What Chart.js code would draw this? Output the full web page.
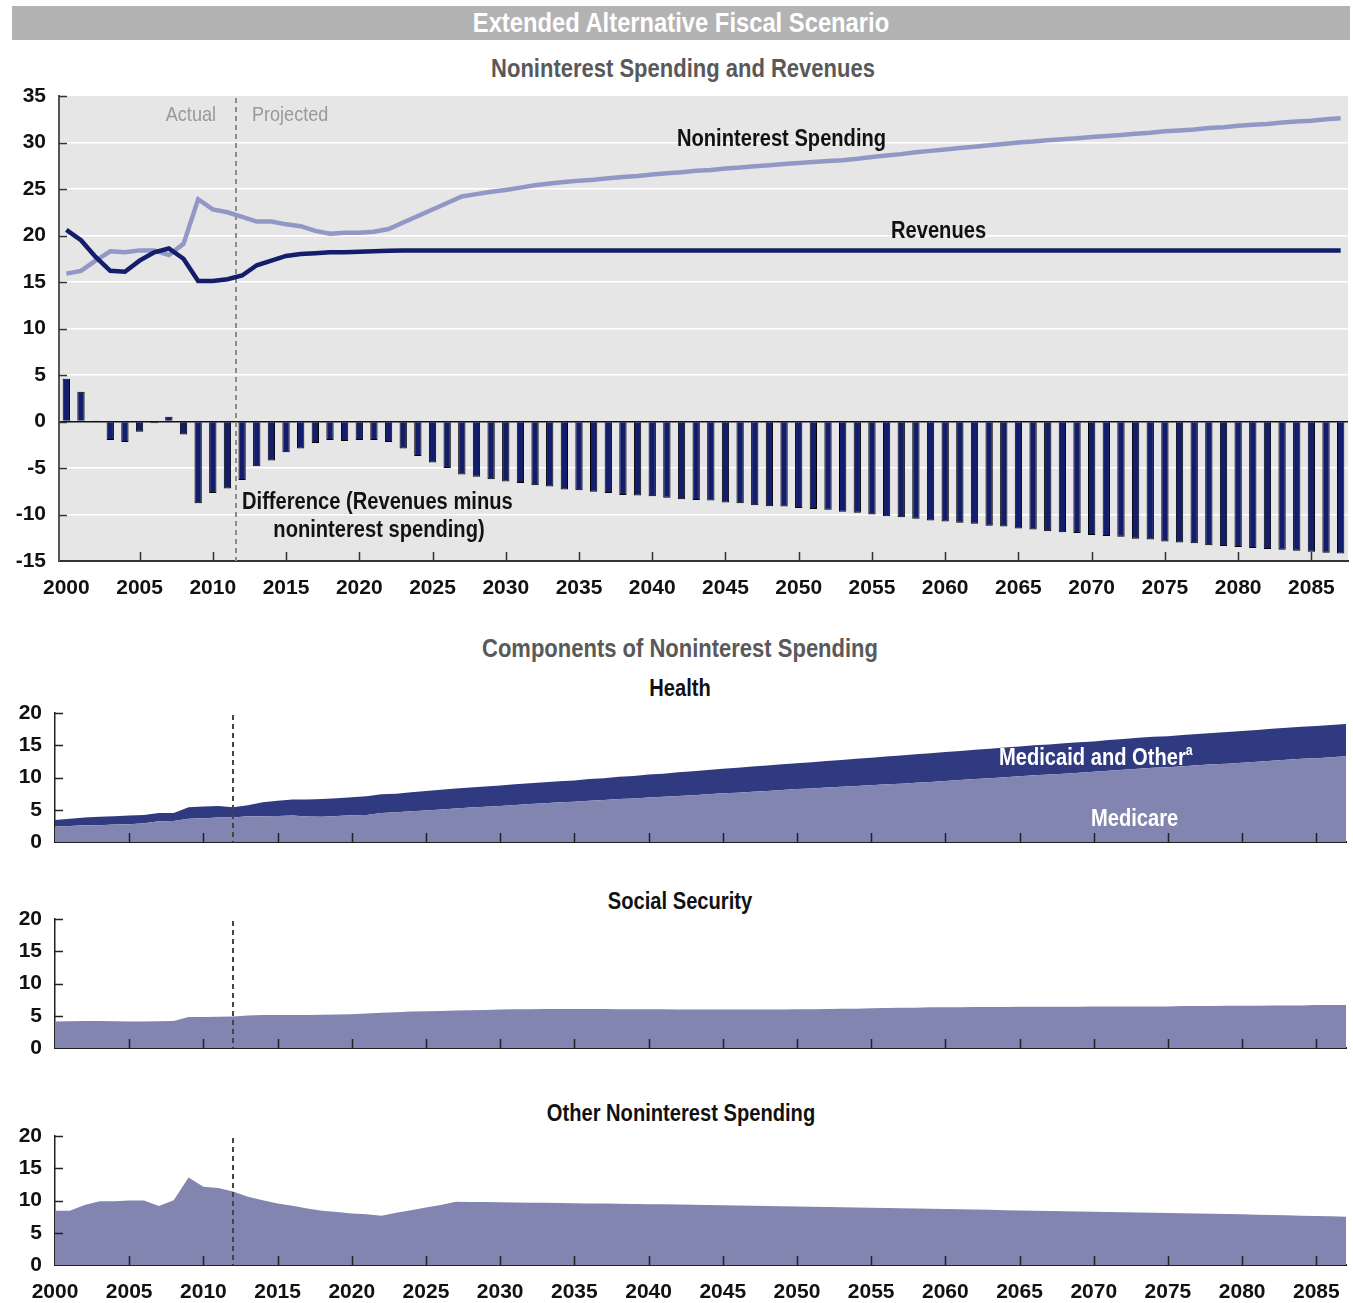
<!DOCTYPE html>
<html>
<head>
<meta charset="utf-8">
<script src="https://cdn.jsdelivr.net/npm/chart.js@4.4.1/dist/chart.umd.min.js"></script>
<style>
  body { margin: 0; background: #fff; width: 1353px; height: 1303px; overflow: hidden; position: relative;
         font-family: "Liberation Sans", Arial, sans-serif; }
  .box { position: absolute; left: 0; width: 1353px; }
  .wide { width: 1361px; }
  .txt { position: absolute; white-space: nowrap; font-weight: bold; height: 30px; line-height: 30px;
         font-size: 23px; color: #111; transform: scaleX(0.875); transform-origin: 0 50%; }
  .ctr { text-align: center; transform-origin: 50% 50%; }
  .ttl { font-size: 25px; color: #595959; transform: scaleX(0.88); }
  .note { font-size: 21px; font-weight: normal; color: #999; transform: scaleX(0.86); }
  .sup { font-size: 14px; position: relative; top: -10px; }
  #header { position: absolute; left: 12px; top: 6px; width: 1338px; height: 34px; background: #b3b3b3; }
  #header div { color: #fff; font-weight: bold; font-size: 27px; line-height: 34px; text-align: center;
                transform: scaleX(0.88); }
</style>
</head>
<body>
<div id="header"><div>Extended Alternative Fiscal Scenario</div></div>

<div class="txt ctr ttl" style="left:383px;width:600px;top:53px;">Noninterest Spending and Revenues</div>
<div class="box wide" style="top:70px;height:536px;"><canvas id="topChart"></canvas></div>
<div class="txt note" style="left:116px;width:100px;text-align:right;top:99px;transform-origin:100% 50%;">Actual</div>
<div class="txt note" style="left:252px;top:99px;">Projected</div>
<div class="txt" style="left:677px;top:123px;">Noninterest Spending</div>
<div class="txt" style="left:891px;top:215px;">Revenues</div>
<div class="txt" style="left:242px;top:486px;">Difference (Revenues minus</div>
<div class="txt ctr" style="left:229px;width:300px;top:514px;">noninterest spending)</div>

<div class="txt ctr ttl" style="left:380px;width:600px;top:633px;">Components of Noninterest Spending</div>
<div class="txt ctr" style="left:530px;width:300px;top:673px;">Health</div>
<div class="box" style="top:687px;height:181px;"><canvas id="healthChart"></canvas></div>
<div class="txt" style="left:999px;top:742px;color:#fff;">Medicaid and Other<span class="sup">a</span></div>
<div class="txt" style="left:1091px;top:803px;color:#fff;">Medicare</div>

<div class="txt ctr" style="left:530px;width:300px;top:886px;">Social Security</div>
<div class="box" style="top:893px;height:181px;"><canvas id="ssChart"></canvas></div>

<div class="txt ctr" style="left:481px;width:400px;top:1098px;">Other Noninterest Spending</div>
<div class="box wide" style="top:1110px;height:200px;"><canvas id="otherChart"></canvas></div>

<script>
// years 2000-2087
const years = [];
for (let y = 2000; y <= 2087; y++) years.push(y);

// percent of GDP
const spending = [
  15.9, 16.2, 17.3, 18.3, 18.2, 18.4, 18.4, 17.9, 19.1, 23.9,
  22.8, 22.5, 22.0, 21.5, 21.5, 21.2, 21.0, 20.5, 20.2, 20.3,
  20.3, 20.4, 20.7, 21.4, 22.1, 22.8, 23.5, 24.2, 24.45, 24.7,
  24.9, 25.15, 25.4, 25.6, 25.75, 25.9, 26.0, 26.15, 26.3, 26.4,
  26.55, 26.7, 26.8, 26.95, 27.05, 27.2, 27.3, 27.45, 27.55, 27.7,
  27.8, 27.9, 28.0, 28.1, 28.25, 28.45, 28.6, 28.75, 28.95, 29.1,
  29.25, 29.4, 29.55, 29.7, 29.85, 30.0, 30.1, 30.25, 30.35, 30.45,
  30.6, 30.7, 30.8, 30.95, 31.05, 31.2, 31.3, 31.4, 31.55, 31.65,
  31.8, 31.9, 32.0, 32.15, 32.25, 32.35, 32.5, 32.6
];
const revenues = [
  20.6, 19.5, 17.7, 16.2, 16.1, 17.3, 18.2, 18.6, 17.5, 15.1,
  15.1, 15.3, 15.7, 16.8, 17.3, 17.8, 18.0, 18.1, 18.2, 18.2,
  18.25, 18.3, 18.35, 18.4, 18.4, 18.4, 18.4, 18.4, 18.4, 18.4,
  18.4, 18.4, 18.4, 18.4, 18.4, 18.4, 18.4, 18.4, 18.4, 18.4,
  18.4, 18.4, 18.4, 18.4, 18.4, 18.4, 18.4, 18.4, 18.4, 18.4,
  18.4, 18.4, 18.4, 18.4, 18.4, 18.4, 18.4, 18.4, 18.4, 18.4,
  18.4, 18.4, 18.4, 18.4, 18.4, 18.4, 18.4, 18.4, 18.4, 18.4,
  18.4, 18.4, 18.4, 18.4, 18.4, 18.4, 18.4, 18.4, 18.4, 18.4,
  18.4, 18.4, 18.4, 18.4, 18.4, 18.4, 18.4, 18.4
];
const difference = [
  4.6, 3.2, 0.1, -2.0, -2.2, -1.1, -0.2, 0.5, -1.4, -8.8,
  -7.7, -7.2, -6.3, -4.8, -4.2, -3.3, -2.9, -2.3, -2.0, -2.1,
  -2.0, -2.0, -2.2, -2.9, -3.7, -4.4, -5.0, -5.7, -5.95, -6.2,
  -6.45, -6.6, -6.85, -7.0, -7.3, -7.4, -7.55, -7.7, -7.9, -7.95,
  -8.05, -8.2, -8.35, -8.45, -8.5, -8.7, -8.8, -9.0, -9.1, -9.15,
  -9.3, -9.4, -9.5, -9.7, -9.8, -10.0, -10.2, -10.3, -10.45, -10.65,
  -10.75, -10.9, -11.0, -11.2, -11.3, -11.5, -11.6, -11.8, -11.9, -12.0,
  -12.2, -12.3, -12.4, -12.6, -12.7, -12.9, -13.0, -13.1, -13.3, -13.4,
  -13.5, -13.6, -13.7, -13.8, -13.9, -14.0, -14.1, -14.2
];
const medicare = [
  2.4, 2.5, 2.6, 2.6, 2.7, 2.75, 2.9, 3.2, 3.25, 3.6,
  3.7, 3.8, 3.8, 4.0, 4.0, 4.05, 4.1, 3.95, 3.9, 4.05,
  4.15, 4.2, 4.5, 4.6, 4.75, 4.9, 5.05, 5.2, 5.35, 5.45,
  5.6, 5.75, 5.9, 6.0, 6.15, 6.25, 6.4, 6.5, 6.65, 6.75,
  6.9, 7.0, 7.15, 7.25, 7.4, 7.55, 7.65, 7.8, 7.9, 8.05,
  8.2, 8.3, 8.45, 8.55, 8.7, 8.8, 8.95, 9.05, 9.2, 9.3,
  9.45, 9.6, 9.75, 9.9, 10.05, 10.2, 10.35, 10.45, 10.6, 10.75,
  10.9, 11.05, 11.2, 11.35, 11.5, 11.6, 11.75, 11.9, 12.05, 12.15,
  12.3, 12.45, 12.6, 12.75, 12.9, 13.0, 13.15, 13.3
];
const medicaidOther = [
  1.0, 1.1, 1.2, 1.3, 1.3, 1.35, 1.3, 1.3, 1.25, 1.8,
  1.8, 1.8, 1.6, 1.7, 2.15, 2.35, 2.5, 2.65, 2.75, 2.75,
  2.8, 2.9, 2.9, 2.9, 2.95, 3.0, 3.05, 3.1, 3.1, 3.15,
  3.15, 3.2, 3.2, 3.25, 3.25, 3.3, 3.35, 3.4, 3.45, 3.5,
  3.55, 3.6, 3.65, 3.7, 3.75, 3.8, 3.85, 3.9, 3.95, 4.0,
  4.0, 4.05, 4.1, 4.15, 4.2, 4.25, 4.3, 4.35, 4.4, 4.45,
  4.5, 4.5, 4.55, 4.55, 4.6, 4.6, 4.65, 4.65, 4.7, 4.7,
  4.7, 4.75, 4.75, 4.8, 4.8, 4.8, 4.85, 4.85, 4.85, 4.9,
  4.9, 4.9, 4.95, 4.95, 4.95, 5.0, 5.0, 5.0
];
const socialSecurity = [
  4.1, 4.15, 4.2, 4.2, 4.15, 4.1, 4.1, 4.15, 4.2, 4.8,
  4.8, 4.85, 4.9, 5.05, 5.1, 5.1, 5.1, 5.1, 5.15, 5.2,
  5.25, 5.35, 5.45, 5.55, 5.65, 5.7, 5.75, 5.8, 5.85, 5.9,
  5.95, 6.0, 6.0, 6.05, 6.05, 6.05, 6.05, 6.05, 6.0, 6.0,
  6.0, 6.0, 5.95, 5.95, 5.95, 5.95, 5.95, 5.95, 5.95, 5.95,
  6.0, 6.0, 6.05, 6.1, 6.1, 6.15, 6.2, 6.25, 6.25, 6.3,
  6.3, 6.3, 6.35, 6.35, 6.35, 6.4, 6.4, 6.4, 6.4, 6.4,
  6.45, 6.45, 6.45, 6.45, 6.45, 6.45, 6.5, 6.5, 6.5, 6.55,
  6.55, 6.55, 6.6, 6.6, 6.6, 6.65, 6.65, 6.65
];
const otherSpending = [
  8.4, 8.4, 9.3, 9.9, 9.9, 10.0, 10.0, 9.15, 10.05, 13.55,
  12.15, 11.95, 11.4, 10.6, 10.05, 9.55, 9.2, 8.75, 8.4, 8.2,
  8.0, 7.85, 7.65, 8.1, 8.5, 8.9, 9.3, 9.8, 9.78, 9.75,
  9.72, 9.7, 9.67, 9.64, 9.61, 9.58, 9.55, 9.52, 9.49, 9.46,
  9.43, 9.4, 9.37, 9.34, 9.31, 9.28, 9.24, 9.2, 9.15, 9.11,
  9.07, 9.03, 8.99, 8.95, 8.91, 8.87, 8.83, 8.79, 8.75, 8.71,
  8.67, 8.63, 8.59, 8.55, 8.5, 8.46, 8.42, 8.38, 8.34, 8.3,
  8.26, 8.22, 8.18, 8.14, 8.1, 8.06, 8.02, 8.0, 7.95, 7.9,
  7.85, 7.8, 7.75, 7.7, 7.65, 7.6, 7.55, 7.5
];

const tickFont = { family: "'Liberation Sans', Arial, sans-serif", size: 21, weight: 'bold' };
const navy = '#141d6b';
const slate = '#8185b0';

// plot background, inward tick marks and the actual/projected divider
const guides = {
  id: 'guides',
  beforeDraw(chart, args, opts) {
    if (!opts.background) return;
    const { ctx, chartArea: a } = chart;
    ctx.save();
    ctx.fillStyle = opts.background;
    ctx.fillRect(a.left, a.top, a.width, a.height);
    ctx.restore();
  },
  beforeDatasetsDraw(chart, args, opts) {
    if (!opts.dividerOnTop) drawDivider(chart, opts);
  },
  afterDatasetsDraw(chart, args, opts) {
    if (opts.dividerOnTop) drawDivider(chart, opts);
    const { ctx, chartArea: a, scales: { x, y } } = chart;
    ctx.save();
    ctx.strokeStyle = opts.tickColor;
    ctx.lineWidth = 1.5;
    ctx.beginPath();
    y.ticks.forEach(t => {
      if (t.value === y.min) return;
      const py = Math.round(y.getPixelForValue(t.value)) + 0.5;
      ctx.moveTo(a.left, py);
      ctx.lineTo(a.left + 8, py);
    });
    years.forEach((yr, i) => {
      if (yr % 5 !== 0 || yr === 2000) return;
      const px = Math.round(x.getPixelForValue(i)) + 0.5;
      ctx.moveTo(px, a.bottom);
      ctx.lineTo(px, a.bottom - 9);
    });
    ctx.stroke();
    ctx.restore();
  }
};

function drawDivider(chart, opts) {
  const { ctx, chartArea: a, scales: { x } } = chart;
  const px = Math.round(x.getPixelForValue(opts.divider));
  ctx.save();
  ctx.strokeStyle = opts.dividerColor;
  ctx.lineWidth = 2;
  ctx.setLineDash([5, 4]);
  ctx.beginPath();
  ctx.moveTo(px, a.top + 2);
  ctx.lineTo(px, a.bottom);
  ctx.stroke();
  ctx.restore();
}

function yearLabel(v, i) {
  return years[i] % 5 === 0 ? String(years[i]) : '';
}

// Noninterest spending and revenues
new Chart(document.getElementById('topChart'), {
  type: 'bar',
  data: {
    labels: years,
    datasets: [
      { type: 'line', label: 'Revenues', data: revenues, borderColor: navy, borderWidth: 4.5,
        pointRadius: 0, order: 0 },
      { type: 'line', label: 'Noninterest Spending', data: spending, borderColor: '#9298c6', borderWidth: 4.5,
        pointRadius: 0, order: 1 },
      { label: 'Difference', data: difference, backgroundColor: navy, borderColor: '#000', borderWidth: 1,
        categoryPercentage: 1, barPercentage: 0.5, order: 2 }
    ]
  },
  options: {
    responsive: true,
    maintainAspectRatio: false,
    animation: false,
    layout: { padding: { top: 26, right: 13, left: 0, bottom: 0 } },
    plugins: {
      legend: { display: false },
      tooltip: { enabled: false },
      guides: { background: '#e6e6e6', divider: 11.6, dividerColor: '#8c8c8c', dividerOnTop: false, tickColor: '#333' }
    },
    scales: {
      x: {
        grid: { display: false, drawTicks: false },
        border: { color: '#333', width: 2 },
        ticks: { autoSkip: false, maxRotation: 0, padding: 15, font: tickFont, color: '#111', callback: yearLabel },
        afterFit: s => { s.height = 45; }
      },
      y: {
        min: -15, max: 35,
        grid: {
          drawTicks: false, lineWidth: 1.5,
          color: c => c.tick.value === 0 ? '#111' : (c.tick.value === -15 || c.tick.value === 35 ? 'rgba(0,0,0,0)' : '#fff')
        },
        border: { color: '#555', width: 2 },
        ticks: { stepSize: 5, autoSkip: false, padding: 13, font: tickFont, color: '#111' },
        afterFit: s => { s.width = 59; }
      }
    }
  },
  plugins: [guides]
});

function componentChart(id, datasets, showYears) {
  return new Chart(document.getElementById(id), {
    type: 'line',
    data: { labels: years, datasets },
    options: {
      responsive: true,
      maintainAspectRatio: false,
      animation: false,
      layout: { padding: { top: 26, right: showYears ? 15 : 7, left: 0, bottom: 0 } },
      elements: { point: { radius: 0 }, line: { borderWidth: 0, tension: 0 } },
      plugins: {
        legend: { display: false },
        tooltip: { enabled: false },
        guides: { divider: 12, dividerColor: '#444', dividerOnTop: true, tickColor: '#222' }
      },
      scales: {
        x: {
          grid: { display: false, drawTicks: false },
          border: { color: '#222', width: 2 },
          ticks: { display: showYears, autoSkip: false, maxRotation: 0, padding: 15, font: tickFont, color: '#111', callback: yearLabel },
          afterFit: s => { s.height = showYears ? 45 : 26; }
        },
        y: {
          min: 0, max: 20, stacked: true,
          grid: { display: false, drawTicks: false },
          border: { color: '#222', width: 1.5 },
          ticks: { stepSize: 5, autoSkip: false, padding: 13, font: tickFont, color: '#111' },
          afterFit: s => { s.width = 55; }
        }
      }
    },
    plugins: [guides]
  });
}

componentChart('healthChart', [
  { label: 'Medicare', data: medicare, fill: 'origin', backgroundColor: slate, borderColor: slate },
  { label: 'Medicaid and Other', data: medicaidOther, fill: '-1', backgroundColor: '#303a80', borderColor: '#303a80' }
], false);

componentChart('ssChart', [
  { label: 'Social Security', data: socialSecurity, fill: 'origin', backgroundColor: slate, borderColor: slate }
], false);

componentChart('otherChart', [
  { label: 'Other Noninterest Spending', data: otherSpending, fill: 'origin', backgroundColor: slate, borderColor: slate }
], true);
</script>
</body>
</html>
